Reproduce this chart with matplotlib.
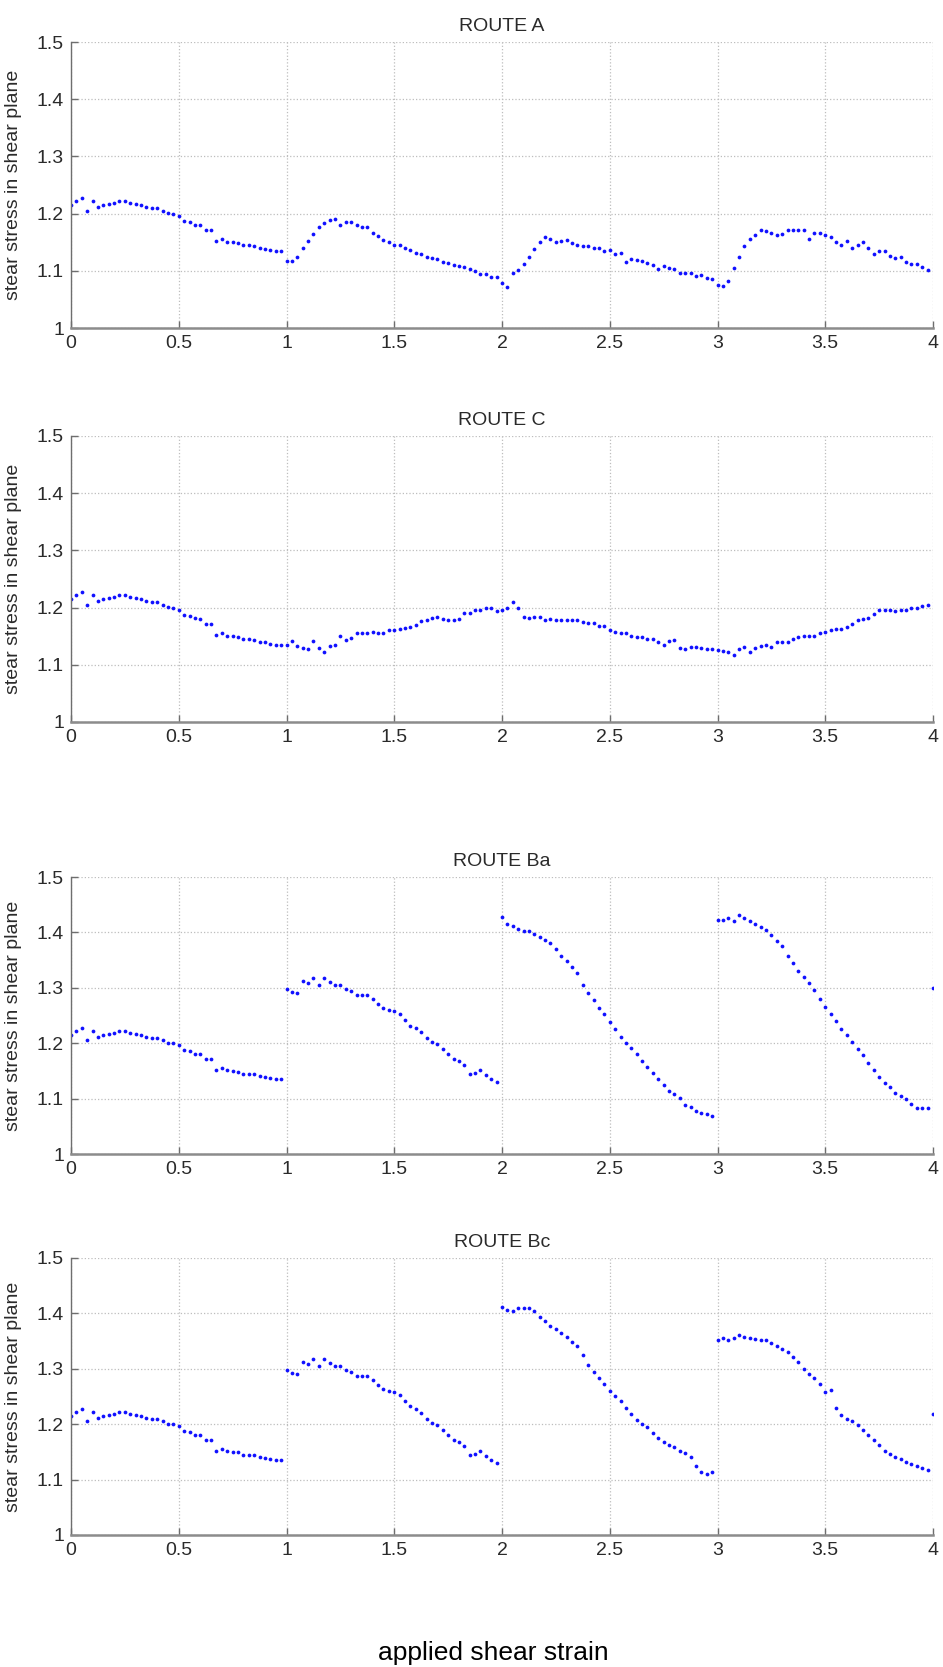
import matplotlib
matplotlib.use("Agg")
import matplotlib.pyplot as plt
from matplotlib.ticker import FuncFormatter

plt.rcParams['font.family'] = ['Liberation Sans', 'DejaVu Sans']

# strain increment between two recorded points, one pass = strain 1
strain_step = 0.025

# first pass is the same for every route
pass1 = [1.215, 1.222, 1.228, 1.205, 1.222, 1.211, 1.215, 1.216, 1.218, 1.222,
         1.222, 1.218, 1.216, 1.215, 1.211, 1.210, 1.210, 1.205, 1.201, 1.200,
         1.196, 1.187, 1.186, 1.181, 1.180, 1.172, 1.171, 1.152, 1.155, 1.151,
         1.150, 1.149, 1.145, 1.145, 1.144, 1.140, 1.139, 1.137, 1.135, 1.135]

# route A
a_pass2 = [1.118, 1.118, 1.124, 1.140, 1.152, 1.165, 1.176, 1.183, 1.189, 1.190,
           1.181, 1.185, 1.185, 1.180, 1.176, 1.176, 1.166, 1.161, 1.154, 1.150,
           1.146, 1.145, 1.140, 1.137, 1.131, 1.130, 1.125, 1.122, 1.121, 1.116,
           1.114, 1.110, 1.108, 1.107, 1.104, 1.100, 1.095, 1.095, 1.090, 1.089]
a_pass3 = [1.078, 1.072, 1.096, 1.102, 1.112, 1.125, 1.138, 1.150, 1.160, 1.155,
           1.150, 1.152, 1.154, 1.148, 1.145, 1.143, 1.143, 1.140, 1.140, 1.135,
           1.137, 1.130, 1.131, 1.116, 1.121, 1.119, 1.117, 1.114, 1.110, 1.104,
           1.108, 1.105, 1.104, 1.097, 1.096, 1.096, 1.091, 1.092, 1.087, 1.085]
a_pass4 = [1.075, 1.073, 1.082, 1.105, 1.125, 1.143, 1.156, 1.163, 1.172, 1.170,
           1.166, 1.163, 1.165, 1.172, 1.172, 1.172, 1.172, 1.155, 1.166, 1.166,
           1.163, 1.160, 1.150, 1.146, 1.152, 1.140, 1.146, 1.150, 1.140, 1.130,
           1.134, 1.134, 1.126, 1.122, 1.125, 1.116, 1.112, 1.112, 1.106, 1.102]

# route C
c_pass2 = [1.135, 1.141, 1.132, 1.129, 1.127, 1.141, 1.130, 1.123, 1.132, 1.135,
           1.151, 1.144, 1.147, 1.156, 1.156, 1.156, 1.157, 1.155, 1.155, 1.161,
           1.161, 1.162, 1.164, 1.166, 1.170, 1.176, 1.178, 1.181, 1.184, 1.180,
           1.178, 1.178, 1.180, 1.190, 1.190, 1.195, 1.195, 1.200, 1.200, 1.194]
c_pass3 = [1.196, 1.200, 1.210, 1.200, 1.183, 1.181, 1.184, 1.184, 1.179, 1.180,
           1.178, 1.178, 1.178, 1.178, 1.178, 1.175, 1.173, 1.173, 1.168, 1.167,
           1.160, 1.158, 1.155, 1.155, 1.150, 1.149, 1.148, 1.145, 1.145, 1.140,
           1.135, 1.142, 1.144, 1.130, 1.128, 1.131, 1.131, 1.130, 1.128, 1.127]
c_pass4 = [1.126, 1.124, 1.122, 1.117, 1.128, 1.131, 1.122, 1.130, 1.133, 1.135,
           1.131, 1.140, 1.140, 1.140, 1.145, 1.148, 1.150, 1.150, 1.150, 1.155,
           1.158, 1.160, 1.162, 1.163, 1.166, 1.172, 1.178, 1.180, 1.181, 1.189,
           1.195, 1.195, 1.195, 1.194, 1.195, 1.196, 1.200, 1.200, 1.202, 1.205]

# routes Ba and Bc share the second pass
b_pass2 = [1.297, 1.293, 1.290, 1.312, 1.308, 1.317, 1.305, 1.317, 1.311, 1.305,
           1.305, 1.297, 1.295, 1.287, 1.287, 1.287, 1.279, 1.270, 1.264, 1.260,
           1.258, 1.252, 1.242, 1.232, 1.228, 1.220, 1.210, 1.202, 1.198, 1.190,
           1.181, 1.172, 1.168, 1.160, 1.145, 1.147, 1.151, 1.142, 1.135, 1.130]

# route Ba
ba_pass3 = [1.428, 1.415, 1.411, 1.407, 1.403, 1.402, 1.398, 1.391, 1.386, 1.381,
            1.370, 1.358, 1.349, 1.338, 1.326, 1.305, 1.290, 1.278, 1.264, 1.252,
            1.238, 1.226, 1.212, 1.201, 1.192, 1.180, 1.168, 1.158, 1.146, 1.135,
            1.124, 1.114, 1.108, 1.101, 1.088, 1.085, 1.078, 1.075, 1.073, 1.069]
ba_pass4 = [1.422, 1.423, 1.426, 1.421, 1.431, 1.426, 1.420, 1.415, 1.410, 1.404,
            1.395, 1.384, 1.375, 1.358, 1.345, 1.331, 1.320, 1.308, 1.296, 1.280,
            1.266, 1.252, 1.240, 1.225, 1.215, 1.203, 1.190, 1.178, 1.165, 1.152,
            1.139, 1.129, 1.121, 1.111, 1.104, 1.100, 1.090, 1.084, 1.084, 1.084]
ba_pass5 = [1.300]

# route Bc
bc_pass3 = [1.411, 1.406, 1.404, 1.410, 1.410, 1.410, 1.404, 1.394, 1.386, 1.378,
            1.372, 1.365, 1.358, 1.349, 1.341, 1.325, 1.307, 1.295, 1.283, 1.273,
            1.259, 1.250, 1.241, 1.230, 1.219, 1.208, 1.200, 1.194, 1.184, 1.175,
            1.168, 1.162, 1.158, 1.152, 1.148, 1.140, 1.125, 1.113, 1.110, 1.114]
bc_pass4 = [1.351, 1.355, 1.351, 1.355, 1.361, 1.358, 1.356, 1.354, 1.352, 1.351,
            1.347, 1.341, 1.335, 1.331, 1.322, 1.312, 1.300, 1.290, 1.283, 1.272,
            1.258, 1.262, 1.230, 1.216, 1.210, 1.205, 1.199, 1.190, 1.181, 1.171,
            1.162, 1.152, 1.146, 1.141, 1.137, 1.132, 1.128, 1.124, 1.120, 1.117]
bc_pass5 = [1.218]

titles = ["ROUTE A", "ROUTE C", "ROUTE Ba", "ROUTE Bc"]
route_passes = [
    [pass1, a_pass2, a_pass3, a_pass4],
    [pass1, c_pass2, c_pass3, c_pass4],
    [pass1, b_pass2, ba_pass3, ba_pass4, ba_pass5],
    [pass1, b_pass2, bc_pass3, bc_pass4, bc_pass5],
]

x_ticks = [0, 0.5, 1, 1.5, 2, 2.5, 3, 3.5, 4]
y_ticks = [1, 1.1, 1.2, 1.3, 1.4, 1.5]
y_label = "stear stress in shear plane"
x_label = "applied shear strain"


def join_passes(passes):
    xs, ys = [], []
    for n, vals in enumerate(passes):
        for i, v in enumerate(vals):
            xs.append(n + i * strain_step)
            ys.append(v)
    return xs, ys


fig = plt.figure(figsize=(9.43, 16.67), dpi=100)

# axes boxes in figure fractions (left, bottom, width, height)
boxes = [
    (0.0753, 0.8032, 0.9141, 0.1716),
    (0.0753, 0.5669, 0.9141, 0.1716),
    (0.0753, 0.3077, 0.9141, 0.1662),
    (0.0753, 0.0792, 0.9141, 0.1662),
]

fmt = FuncFormatter(lambda v, pos: "%g" % round(v, 2))

for box, title, passes in zip(boxes, titles, route_passes):
    ax = fig.add_axes(box)
    xs, ys = join_passes(passes)
    ax.plot(xs, ys, linestyle='none', marker='o', markersize=2.7,
            markeredgewidth=0, color='#1010ff')

    ax.set_xlim(0, 4)
    ax.set_ylim(1, 1.5)
    ax.set_xticks(x_ticks)
    ax.set_yticks(y_ticks)
    ax.xaxis.set_major_formatter(fmt)
    ax.yaxis.set_major_formatter(fmt)
    ax.grid(True, linestyle=':', color='#bdbdbd', linewidth=0.9)
    ax.set_axisbelow(True)

    ax.spines['top'].set_visible(False)
    ax.spines['right'].set_visible(False)
    ax.spines['left'].set_color('#6e6e6e')
    ax.spines['left'].set_linewidth(1.0)
    ax.spines['bottom'].set_color('#8c8c8c')
    ax.spines['bottom'].set_linewidth(1.8)

    ax.tick_params(direction='in', length=5, width=1, color='#6e6e6e',
                   labelsize=14, labelcolor='#2a2a2a', pad=5,
                   top=False, right=False)

    ax.set_title(title, fontsize=14, color='#2a2a2a', pad=8)
    ax.set_ylabel(y_label, fontsize=14, color='#2a2a2a')
    ax.yaxis.set_label_coords(-0.057, 0.5)

fig.text(493 / 943, 7 / 1667, x_label, ha='center', va='baseline',
         fontsize=19, color='black')

fig.savefig("out.png", dpi=100)
